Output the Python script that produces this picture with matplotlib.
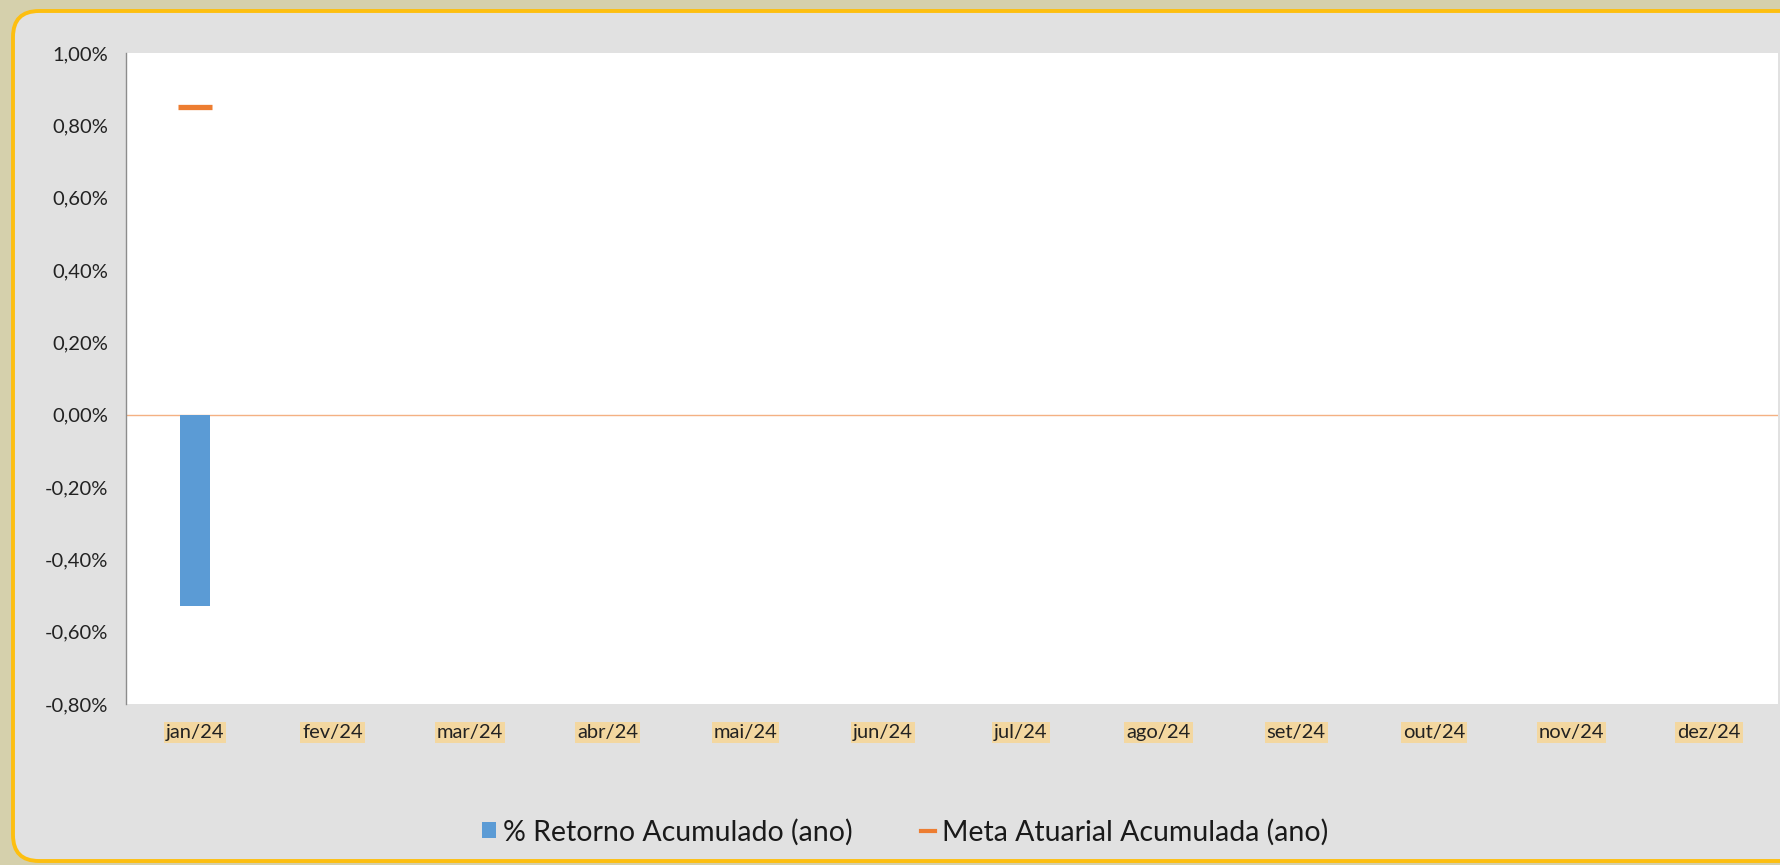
import matplotlib
matplotlib.use("Agg")
import matplotlib.pyplot as plt
from matplotlib.patches import FancyBboxPatch, Rectangle
from matplotlib.lines import Line2D
from matplotlib.transforms import IdentityTransform
import numpy as np

categories = ["jan/24", "fev/24", "mar/24", "abr/24", "mai/24", "jun/24",
              "jul/24", "ago/24", "set/24", "out/24", "nov/24", "dez/24"]
retorno = [-0.53, None, None, None, None, None, None, None, None, None, None, None]
meta = [0.85, None, None, None, None, None, None, None, None, None, None, None]
yticks = [-0.8, -0.6, -0.4, -0.2, 0.0, 0.2, 0.4, 0.6, 0.8, 1.0]
ytick_labels = ["-0,80%", "-0,60%", "-0,40%", "-0,20%", "0,00%", "0,20%",
                "0,40%", "0,60%", "0,80%", "1,00%"]
series_names = ["% Retorno Acumulado (ano)", "Meta Atuarial Acumulada (ano)"]

plt.rcParams['font.family'] = ['Lato', 'DejaVu Sans']

W, H = 1781, 865
fig = plt.figure(figsize=(W / 100, H / 100), dpi=100)
fig.patch.set_facecolor('#d5d0ac')

# rounded panel with yellow border (pixel coordinates)
panel = FancyBboxPatch((13, 4), 1850, 850, boxstyle="round,pad=0,rounding_size=26",
                       transform=IdentityTransform(), facecolor='#e1e1e1',
                       edgecolor='#fdbf10', linewidth=2.8, zorder=-10)
fig.patches.append(panel)

ax = fig.add_axes([126 / W, 1 - 704 / H, (1778 - 126) / W, (704 - 53) / H])
ax.set_zorder(1)
ax.set_facecolor('white')

x = np.arange(len(categories))
r_vals = np.array([np.nan if v is None else v for v in retorno])
m_vals = np.array([np.nan if v is None else v for v in meta])

ax.bar(x, r_vals, width=0.22, color='#5b9bd5', zorder=3)
ax.plot(x, m_vals, linestyle='none', marker='_', markersize=24,
        markeredgewidth=3.8, color='#ed7d31', zorder=4)
ax.axhline(0, color='#f4b183', linewidth=1.0, zorder=2)

ax.set_xlim(-0.5, len(categories) - 0.5)
ax.set_ylim(-0.8, 1.0)
ax.set_yticks(yticks)
ax.set_yticklabels(ytick_labels)
ax.set_xticks(x)
ax.set_xticklabels(categories)

for s in ['top', 'right', 'bottom']:
    ax.spines[s].set_visible(False)
ax.spines['left'].set_color('#8c8c8c')
ax.spines['left'].set_linewidth(1.0)

ax.tick_params(axis='both', length=0, labelsize=14.5, labelcolor='#222222')
ax.tick_params(axis='y', pad=13)
ax.tick_params(axis='x', pad=14.5)
for lab in ax.get_xticklabels():
    lab.set_bbox(dict(facecolor='#f3d7a0', edgecolor='none', pad=1.5))

handles = [Rectangle((0, 0), 1, 1, facecolor='#5b9bd5', edgecolor='none'),
           Line2D([], [], color='#ed7d31', linewidth=3)]
leg = fig.legend(handles, series_names, loc='center', bbox_to_anchor=(905 / W, 1 - 832 / H),
                 ncol=2, frameon=False, fontsize=20.5, handlelength=0.5, handleheight=0.5,
                 handletextpad=0.25, columnspacing=2.4, labelcolor='#1a1a1a')
leg.set_zorder(2)

fig.savefig('out.png', dpi=100, facecolor=fig.get_facecolor())
